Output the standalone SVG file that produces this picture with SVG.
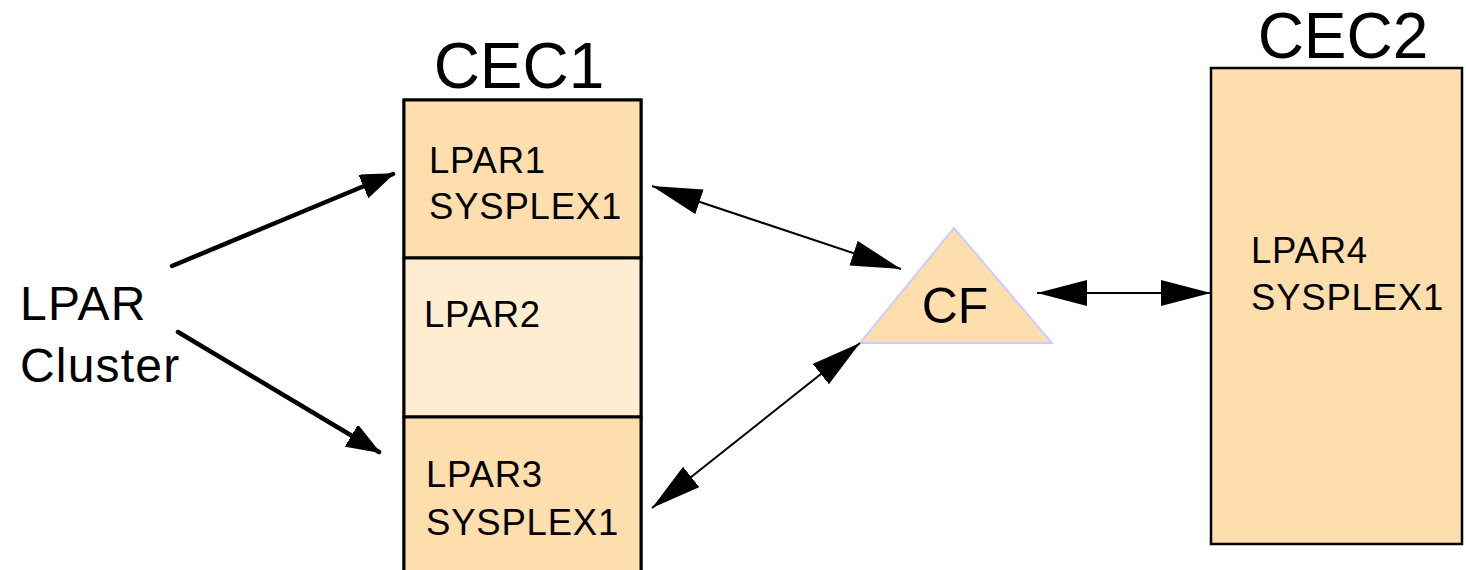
<svg xmlns="http://www.w3.org/2000/svg" width="1466" height="570" viewBox="0 0 1466 570">
<style>
  .t { font-family: "Liberation Sans", Arial, sans-serif; fill: #000; }
  .lp { font-size: 36.5px; letter-spacing: 0.8px; }
  .big { font-size: 48px; letter-spacing: 1.2px; }
  .box { stroke: #000; stroke-width: 3; }
  .thin { stroke: #000; stroke-width: 2; fill: none; }
  .thick { stroke: #000; stroke-width: 4.5; fill: none; stroke-linecap: round; }
</style>
<defs>
  <marker id="hd" markerUnits="userSpaceOnUse" markerWidth="52" markerHeight="28" refX="50" refY="13" orient="auto-start-reverse" viewBox="0 0 52 28">
    <path d="M0,0 L50,13 L0,26 Z" fill="#000"/>
  </marker>
  <marker id="hk" markerUnits="userSpaceOnUse" markerWidth="34" markerHeight="26" refX="32" refY="12" orient="auto" viewBox="0 0 34 26">
    <path d="M0,0 L32,12 L0,24 Z" fill="#000" stroke="#000" stroke-width="1.5" stroke-linejoin="round"/>
  </marker>
</defs>
<rect width="1466" height="570" fill="#fff"/>

<g id="cec1">
  <text class="t" x="519" y="88" font-size="64" text-anchor="middle">CEC1</text>
  <rect class="box" x="404" y="100" width="237" height="490" fill="#FFDEAD"/>
</g>
<g id="lpar1">
  <rect class="box" x="404" y="100" width="237" height="158" fill="#FFDEAD"/>
  <text class="t lp" x="429" y="173">LPAR1</text>
  <text class="t lp" x="429" y="219">SYSPLEX1</text>
</g>
<g id="lpar2">
  <rect class="box" x="404" y="258" width="237" height="159" fill="#FFEDD2"/>
  <text class="t lp" x="424" y="327">LPAR2</text>
</g>
<g id="lpar3">
  <rect class="box" x="404" y="417" width="237" height="173" fill="#FFDEAD"/>
  <text class="t lp" x="426" y="487">LPAR3</text>
  <text class="t lp" x="426" y="535">SYSPLEX1</text>
</g>
<g id="cf">
  <polygon points="954,228 860,343 1052,343" fill="#FFDEAD" stroke="#CCCCFF" stroke-width="2"/>
  <text class="t" x="955" y="323" font-size="50" text-anchor="middle">CF</text>
</g>
<g id="cec2">
  <text class="t" x="1343" y="58" font-size="64" text-anchor="middle">CEC2</text>
  <rect x="1211" y="68" width="251" height="476" fill="#FFDEAD" stroke="#000" stroke-width="2.5"/>
  <text class="t lp" x="1251" y="263">LPAR4</text>
  <text class="t lp" x="1251" y="310">SYSPLEX1</text>
</g>
<g id="lparcluster">
  <text class="t big" x="20" y="320">LPAR</text>
  <text class="t big" x="20" y="382">Cluster</text>
</g>

<g id="connectors">
  <line class="thin" x1="652" y1="186" x2="901" y2="269" marker-start="url(#hd)" marker-end="url(#hd)"/>
  <line class="thin" x1="652" y1="508" x2="860" y2="343" marker-start="url(#hd)" marker-end="url(#hd)"/>
  <line class="thin" x1="1037" y1="293" x2="1211" y2="293" marker-start="url(#hd)" marker-end="url(#hd)"/>
  <line class="thick" x1="172" y1="266" x2="393" y2="174" marker-end="url(#hk)"/>
  <line class="thick" x1="178" y1="332" x2="379" y2="452" marker-end="url(#hk)"/>
</g>
</svg>
